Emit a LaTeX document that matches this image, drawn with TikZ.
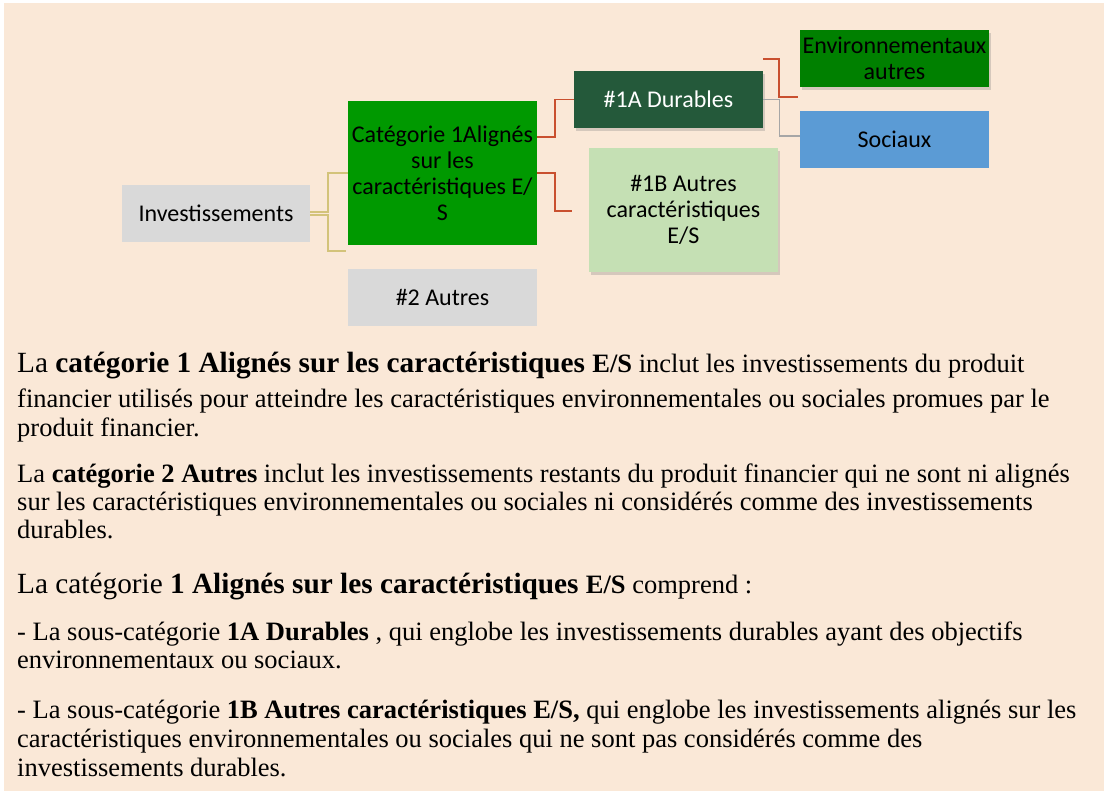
\documentclass[tikz,border=0pt]{standalone}
\usepackage{fontspec}
\setmainfont{Liberation Serif}
\newfontfamily\diafont{Carlito}
\usetikzlibrary{shadows}
\definecolor{peach}{HTML}{FAE8D7}
\definecolor{boxgray}{HTML}{D9D9D9}
\definecolor{catgreen}{HTML}{009900}
\definecolor{darkgreen}{HTML}{24593A}
\definecolor{lightgreen}{HTML}{C5E0B4}
\definecolor{envgreen}{HTML}{008000}
\definecolor{socblue}{HTML}{5B9BD5}
\definecolor{redline}{HTML}{C9502F}
\definecolor{tanline}{HTML}{D3C37A}
\definecolor{grayline}{HTML}{A6A6A6}
\newcommand{\bigf}{\fontsize{29.3}{32}\selectfont}
\newcommand{\normf}{\fontsize{26.5}{28}\selectfont}
\tikzset{
  dbox/.style={minimum width=189, minimum height=57, inner sep=0pt, align=center,
    font=\diafont\fontsize{24}{26}\selectfont, text=black},
  shad/.style={drop shadow={opacity=0.3, shadow xshift=2pt, shadow yshift=-3pt}},
  redconn/.style={draw=redline, line width=1.5pt},
  tanconn/.style={draw=tanline, line width=1.3pt},
  grayconn/.style={draw=grayline, line width=1.3pt},
  txt/.style={anchor=base west, inner sep=0pt, font=\normf},
}
\begin{document}
\begin{tikzpicture}[x=1pt, y=-1pt]
\useasboundingbox (0,0) rectangle (1106,794);
\fill[white] (0,0) rectangle (1106,794);
\fill[peach] (4,3) rectangle (1104,791);

% diagram nodes
\node[dbox, fill=boxgray, minimum width=188] (inv) at (216,213.5) {Investissements};
\node[dbox, fill=catgreen, minimum height=144] (cat1) at (442.5,173) {Catégorie 1Alignés\\sur les\\caractéristiques E/\\S};
\node[dbox, fill=boxgray] (aut2) at (442.5,297.5) {\#2 Autres};
\node[dbox, fill=darkgreen, shad, text=white] (d1a) at (668.5,99.5) {\#1A Durables};
\node[dbox, fill=lightgreen, shad, minimum height=124] (b1b) at (683.5,210) {\#1B Autres\\caractéristiques\\E/S};
\node[dbox, fill=envgreen, shad] (env) at (894.5,58.5) {Environnementaux\\autres};
\node[dbox, fill=socblue] (soc) at (894.5,139.5) {Sociaux};

% free ends
\coordinate (c2end) at (346,251);
\coordinate (bx) at (328,0);
\coordinate (e1b) at (572,211);
\coordinate (rs) at (763,59);
\coordinate (re) at (798,97);

% connectors
\draw[tanconn] ([yshift=1.5pt]inv.east) -- ([yshift=1.5pt]inv.east -| bx) |- (cat1.west);
\draw[tanconn] ([yshift=-1.5pt]inv.east) -- ([yshift=-1.5pt]inv.east -| bx) |- (c2end);
\draw[redconn] ([yshift=36pt]cat1.east) -- ++(18,0) |- (d1a.west);
\draw[redconn] (cat1.east) -- ++(18,0) |- (e1b);
\draw[redconn] (rs) -- ++(16,0) |- (re);
\draw[grayconn] (d1a.east) -- ++(16,0) |- ([yshift=3.5pt]soc.west);

% text paragraphs
\node[txt] (p1a) at (17,373) {{\bigf La \textbf{catégorie 1 Alignés sur les caractéristiques} }\textbf{E/S} inclut les investissements du produit};
\node[txt] (p1b) at (17,407) {financier utilisés pour atteindre les caractéristiques environnementales ou sociales promues par le};
\node[txt] (p1c) at (17,436) {produit financier.};

\node[txt] (p2a) at (17,482) {La \textbf{catégorie 2 Autres} inclut les investissements restants du produit financier qui ne sont ni alignés};
\node[txt] (p2b) at (17,510) {sur les caractéristiques environnementales ou sociales ni considérés comme des investissements};
\node[txt] (p2c) at (17,538) {durables.};

\node[txt] (p3a) at (17,593) {{\bigf La catégorie \textbf{1 Alignés sur les caractéristiques} }\textbf{E/S} comprend :};

\node[txt] (p4a) at (17,640) {- La sous-catégorie \textbf{1A Durables} , qui englobe les investissements durables ayant des objectifs};
\node[txt] (p4b) at (17,668) {environnementaux ou sociaux.};

\node[txt] (p5a) at (17,718) {- La sous-catégorie \textbf{1B Autres caractéristiques E/S,} qui englobe les investissements alignés sur les};
\node[txt] (p5b) at (17,747) {caractéristiques environnementales ou sociales qui ne sont pas considérés comme des};
\node[txt] (p5c) at (17,776) {investissements durables.};
\end{tikzpicture}
\end{document}
